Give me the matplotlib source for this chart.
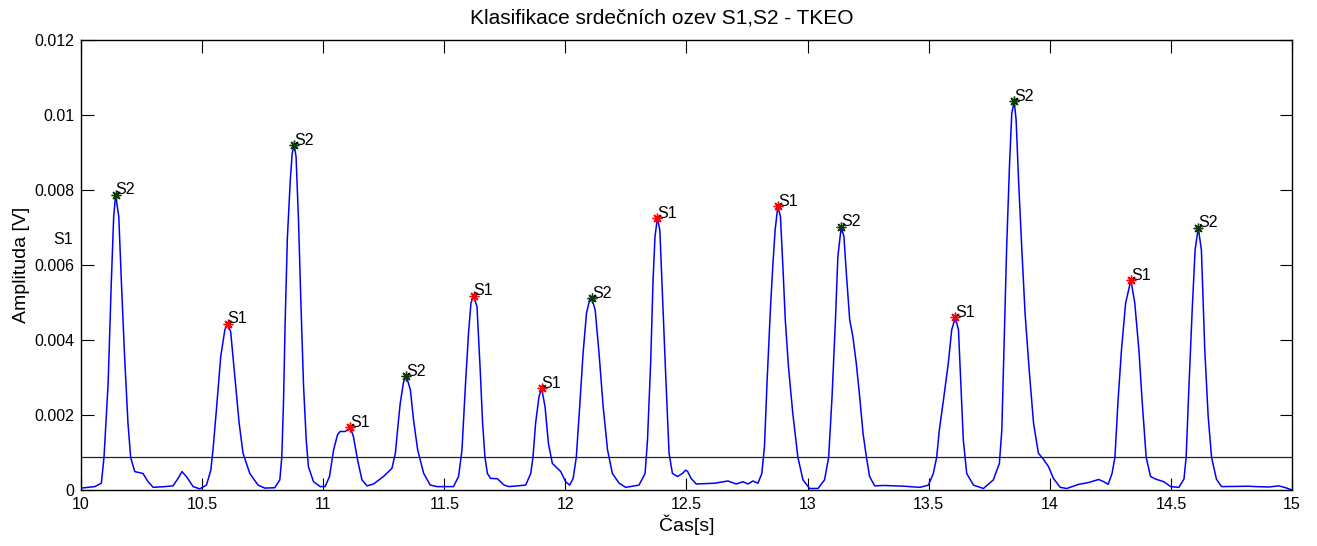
import matplotlib
matplotlib.use("Agg")
import matplotlib.pyplot as plt
from matplotlib.ticker import FuncFormatter

plt.rcParams["font.family"] = ["Liberation Sans", "DejaVu Sans"]

# TKEO envelope of the heart sound recording
t = [10.000, 10.057, 10.084, 10.095, 10.112, 10.125, 10.135, 10.143, 10.156, 10.167,
     10.180, 10.194, 10.205, 10.222, 10.256, 10.277, 10.298, 10.346, 10.380, 10.401,
     10.417, 10.435, 10.463, 10.490, 10.518, 10.536, 10.545, 10.559, 10.577, 10.594,
     10.605, 10.618, 10.635, 10.653, 10.669, 10.697, 10.731, 10.759, 10.800, 10.821,
     10.829, 10.836, 10.843, 10.852, 10.864, 10.872, 10.880, 10.888, 10.898, 10.908,
     10.919, 10.930, 10.939, 10.960, 10.988, 11.008, 11.026, 11.043, 11.059, 11.070,
     11.091, 11.112, 11.125, 11.142, 11.160, 11.181, 11.208, 11.249, 11.284, 11.298,
     11.307, 11.318, 11.332, 11.343, 11.360, 11.373, 11.390, 11.415, 11.442, 11.470,
     11.538, 11.559, 11.573, 11.587, 11.600, 11.610, 11.621, 11.635, 11.649, 11.658,
     11.668, 11.678, 11.691, 11.719, 11.747, 11.767, 11.836, 11.857, 11.866, 11.877,
     11.891, 11.902, 11.916, 11.930, 11.946, 11.981, 12.001, 12.018, 12.032, 12.045,
     12.059, 12.073, 12.087, 12.100, 12.109, 12.123, 12.139, 12.156, 12.174, 12.194,
     12.222, 12.249, 12.304, 12.329, 12.339, 12.352, 12.362, 12.370, 12.380, 12.390,
     12.401, 12.415, 12.428, 12.442, 12.463, 12.483, 12.497, 12.505, 12.519, 12.540,
     12.616, 12.671, 12.705, 12.733, 12.754, 12.774, 12.795, 12.811, 12.822, 12.833,
     12.847, 12.857, 12.866, 12.877, 12.888, 12.898, 12.908, 12.921, 12.939, 12.960,
     12.981, 13.008, 13.043, 13.070, 13.087, 13.101, 13.115, 13.125, 13.139, 13.150,
     13.160, 13.174, 13.187, 13.201, 13.215, 13.229, 13.243, 13.256, 13.277, 13.318,
     13.400, 13.464, 13.499, 13.519, 13.533, 13.544, 13.561, 13.581, 13.595, 13.610,
     13.623, 13.632, 13.643, 13.657, 13.685, 13.726, 13.767, 13.792, 13.802, 13.811,
     13.822, 13.834, 13.843, 13.853, 13.861, 13.871, 13.884, 13.898, 13.916, 13.933,
     13.953, 13.974, 13.995, 14.015, 14.043, 14.070, 14.119, 14.161, 14.202, 14.223,
     14.241, 14.257, 14.269, 14.282, 14.296, 14.313, 14.335, 14.351, 14.368, 14.381,
     14.398, 14.416, 14.437, 14.471, 14.499, 14.533, 14.554, 14.563, 14.574, 14.588,
     14.600, 14.613, 14.626, 14.640, 14.654, 14.668, 14.688, 14.709, 14.822, 14.850,
     14.905, 14.946, 14.974, 15.000]
amp = [0.00005, 0.00009, 0.00018, 0.00087, 0.00284, 0.00551, 0.00729, 0.00787, 0.00729, 0.00551,
       0.00356, 0.00178, 0.00087, 0.00049, 0.00044, 0.00022, 0.00007, 0.00009, 0.00011, 0.00031,
       0.00049, 0.00036, 0.00009, 0.00003, 0.00013, 0.00053, 0.00107, 0.00213, 0.00356, 0.00427,
       0.00443, 0.00422, 0.00302, 0.00178, 0.00098, 0.00044, 0.00013, 0.00005, 0.00006, 0.00027,
       0.00087, 0.00230, 0.00450, 0.00670, 0.00825, 0.00898, 0.00920, 0.00889, 0.00720, 0.00498,
       0.00276, 0.00133, 0.00062, 0.00022, 0.00009, 0.00009, 0.00036, 0.00107, 0.00147, 0.00156,
       0.00156, 0.00167, 0.00142, 0.00080, 0.00027, 0.00011, 0.00016, 0.00036, 0.00058, 0.00098,
       0.00160, 0.00231, 0.00289, 0.00304, 0.00267, 0.00187, 0.00107, 0.00044, 0.00013, 0.00009,
       0.00009, 0.00036, 0.00107, 0.00276, 0.00418, 0.00498, 0.00518, 0.00489, 0.00311, 0.00180,
       0.00087, 0.00044, 0.00031, 0.00030, 0.00013, 0.00009, 0.00013, 0.00044, 0.00087, 0.00178,
       0.00249, 0.00271, 0.00222, 0.00124, 0.00071, 0.00049, 0.00022, 0.00013, 0.00031, 0.00087,
       0.00222, 0.00364, 0.00471, 0.00507, 0.00511, 0.00480, 0.00364, 0.00222, 0.00107, 0.00044,
       0.00018, 0.00007, 0.00013, 0.00044, 0.00133, 0.00338, 0.00560, 0.00676, 0.00725, 0.00693,
       0.00516, 0.00293, 0.00098, 0.00044, 0.00036, 0.00044, 0.00053, 0.00049, 0.00031, 0.00016,
       0.00018, 0.00024, 0.00016, 0.00022, 0.00016, 0.00024, 0.00018, 0.00044, 0.00116, 0.00293,
       0.00489, 0.00604, 0.00693, 0.00756, 0.00729, 0.00596, 0.00453, 0.00329, 0.00204, 0.00087,
       0.00027, 0.00004, 0.00004, 0.00027, 0.00087, 0.00249, 0.00453, 0.00622, 0.00702, 0.00676,
       0.00578, 0.00453, 0.00409, 0.00338, 0.00249, 0.00151, 0.00087, 0.00036, 0.00011, 0.00012,
       0.00010, 0.00007, 0.00013, 0.00044, 0.00087, 0.00160, 0.00240, 0.00338, 0.00427, 0.00460,
       0.00427, 0.00293, 0.00133, 0.00044, 0.00013, 0.00004, 0.00027, 0.00071, 0.00160, 0.00382,
       0.00649, 0.00871, 0.01004, 0.01036, 0.00987, 0.00827, 0.00649, 0.00471, 0.00311, 0.00178,
       0.00098, 0.00082, 0.00062, 0.00031, 0.00007, 0.00004, 0.00015, 0.00020, 0.00028, 0.00022,
       0.00015, 0.00044, 0.00087, 0.00240, 0.00373, 0.00498, 0.00560, 0.00498, 0.00373, 0.00240,
       0.00087, 0.00036, 0.00029, 0.00022, 0.00009, 0.00007, 0.00029, 0.00087, 0.00267, 0.00480,
       0.00640, 0.00699, 0.00640, 0.00373, 0.00196, 0.00087, 0.00029, 0.00009, 0.00010, 0.00009,
       0.00008, 0.00011, 0.00006, 0.00000]

# detected peaks
s1_t = [10.605, 11.112, 11.621, 11.902, 12.380, 12.877, 13.610, 14.335]
s1_v = [0.00443, 0.00167, 0.00518, 0.00271, 0.00725, 0.00756, 0.00460, 0.00560]
s2_t = [10.143, 10.880, 11.343, 12.109, 13.139, 13.853, 14.613]
s2_v = [0.00787, 0.00920, 0.00304, 0.00511, 0.00702, 0.01036, 0.00699]

threshold = 0.00087

fig = plt.figure(figsize=(13.17, 5.46), dpi=100)
ax = fig.add_axes([0.0615, 0.1026, 0.9195, 0.8242])

ax.plot(t, amp, color="#0000ff", linewidth=1.1)
ax.axhline(threshold, color="#222222", linewidth=0.9)

# asterisk markers (8 spokes)
star = (8, 2, 0)
ax.plot(s1_t, s1_v, linestyle="none", marker=star, color="#ff0000", markersize=7, markeredgewidth=1.0)
ax.plot(s2_t, s2_v, linestyle="none", marker=star, color="#0a3a0a", markersize=7, markeredgewidth=1.0)

for x, y in zip(s1_t, s1_v):
    ax.annotate("S1", xy=(x, y), xytext=(0, 3.5), textcoords="offset points",
                ha="left", va="center", fontsize=11.5)
for x, y in zip(s2_t, s2_v):
    ax.annotate("S2", xy=(x, y), xytext=(0, 3.5), textcoords="offset points",
                ha="left", va="center", fontsize=11.5)

# stray label left of the axes
ax.text(9.885, 0.00667, "S1", ha="left", va="center", fontsize=11.5)

ax.set_xlim(10, 15)
ax.set_ylim(0, 0.012)
ax.set_xticks([10, 10.5, 11, 11.5, 12, 12.5, 13, 13.5, 14, 14.5, 15])
ax.set_yticks([0, 0.002, 0.004, 0.006, 0.008, 0.01, 0.012])
ax.xaxis.set_major_formatter(FuncFormatter(lambda v, p: f"{v:g}"))
ax.yaxis.set_major_formatter(FuncFormatter(lambda v, p: f"{v:g}"))
ax.tick_params(direction="in", length=9, width=0.8, top=True, right=True,
               labelsize=11.5, pad=5)

for spine in ax.spines.values():
    spine.set_linewidth(1.0)

fig.text(662 / 1317, 1 - 18 / 546, "Klasifikace srdečních ozev S1,S2 - TKEO",
         ha="center", va="center", fontsize=15)
ax.set_xlabel("Čas[s]", fontsize=14, labelpad=2)
ax.set_ylabel("Amplituda [V]", fontsize=14, labelpad=3)

fig.savefig("out.png", dpi=100, facecolor="white")
